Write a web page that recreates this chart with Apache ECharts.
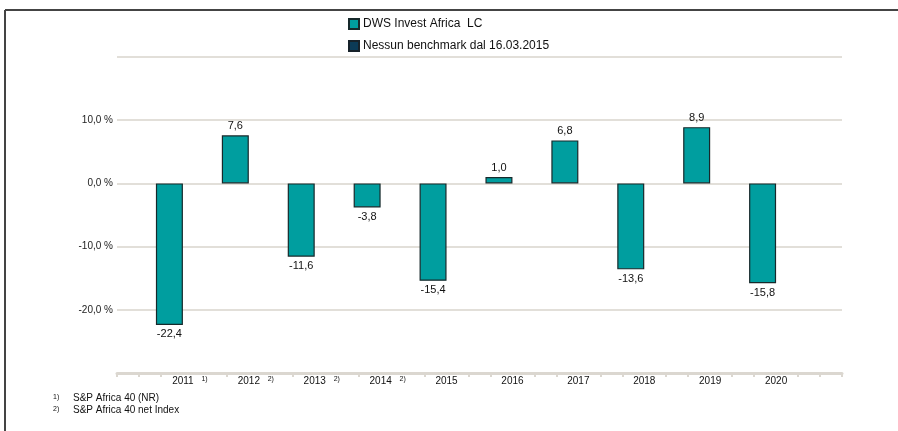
<!DOCTYPE html>
<html>
<head>
<meta charset="utf-8">
<script src="https://cdn.jsdelivr.net/npm/echarts@6/dist/echarts.min.js"></script>
<style>
html,body{margin:0;padding:0;background:#fff;}
#chart{width:898px;height:431px;}
</style>
</head>
<body>
<div id="chart"></div>
<script>
// ---- data ----
const years = ['2011','2012','2013','2014','2015','2016','2017','2018','2019','2020'];
const footMarks = ['1)','2)','2)','2)','','','','','',''];
const dwsValues = [-22.4, 7.6, -11.6, -3.8, -15.4, 1.0, 6.8, -13.6, 8.9, -15.8];
const benchmarkValues = [null, null, null, null, null, null, null, null, null, null];
const seriesNames = ['DWS Invest Africa  LC', 'Nessun benchmark dal 16.03.2015'];
const yTicks = [-20, -10, 0, 10];
const footnotes = [['1)', 'S&P Africa 40 (NR)'], ['2)', 'S&P Africa 40 net Index']];

// padded category axis (an empty slot at each end)
const cats = [''].concat(years, ['']);
const pad = arr => [null].concat(arr, [null]);
const subTicks = Array.from({length: (cats.length - 1) * 3 + 1}, () => '');

const fmt = v => v.toFixed(1).replace('.', ',');
const FONT = '"Liberation Sans", Arial, sans-serif';

const chart = echarts.init(document.getElementById('chart'));
chart.setOption({
  animation: false,
  textStyle: {fontFamily: FONT},
  legend: {
    orient: 'vertical',
    left: 343, top: 13,
    itemWidth: 10, itemHeight: 10, itemGap: 10,
    icon: 'rect',
    textStyle: {fontSize: 12, color: '#111', fontFamily: FONT, padding: [0, 0, 0, -1]},
    data: seriesNames
  },
  grid: {left: 117, right: 56, top: 57, bottom: 58},
  xAxis: [{
    type: 'category',
    data: cats,
    boundaryGap: false,
    axisLine: {show: false},
    axisTick: {show: false},
    splitLine: {show: false},
    axisLabel: {
      interval: 0,
      margin: 3,
      color: '#111',
      fontSize: 10,
      fontFamily: FONT,
      formatter: function (v) {
        const i = years.indexOf(v);
        if (i < 0) return '';
        const m = footMarks[i];
        return m ? '{p|}{y|' + v + '}{s|' + m + '}' : '{y|' + v + '}';
      },
      rich: {
        y: {fontSize: 10, color: '#111', fontFamily: FONT},
        p: {width: 14},
        s: {fontSize: 7, color: '#111', fontFamily: FONT, width: 14, align: 'right', verticalAlign: 'top', padding: [0, 0, 3, 0]}
      }
    }
  }, {
    type: 'category',
    data: subTicks,
    boundaryGap: false,
    position: 'bottom',
    axisLine: {show: true, lineStyle: {color: '#dbd7d0', width: 3}},
    axisTick: {
      show: true, length: 4,
      lineStyle: {color: '#dbd7d0', width: 2},
      interval: function (i) {
        if (i === 0 || i === subTicks.length - 1) return true;
        if (i % 3 === 0) return false;
        if (i % 3 === 1) {
          const c = (i - 1) / 3 - 1;
          if (c >= 0 && c < footMarks.length && footMarks[c]) return false;
        }
        return true;
      }
    },
    axisLabel: {show: false},
    splitLine: {show: false}
  }],
  yAxis: {
    type: 'value',
    min: -30, max: 20, interval: 10,
    axisLine: {show: false},
    axisTick: {show: false},
    splitLine: {lineStyle: {color: '#e2dfd9', width: 2}},
    axisLabel: {
      margin: 4,
      color: '#222',
      fontSize: 10,
      fontFamily: FONT,
      formatter: v => yTicks.indexOf(v) >= 0 ? fmt(v) + ' %' : ''
    }
  },
  series: [{
    name: seriesNames[0],
    type: 'bar',
    data: pad(dwsValues),
    barWidth: 27,
    barGap: '0%',
    itemStyle: {color: '#009e9f', borderColor: '#17292b', borderWidth: 1.2},
    label: {
      show: true,
      position: 'outside',
      distance: 4,
      fontSize: 11,
      color: '#111',
      fontFamily: FONT,
      formatter: p => p.value == null ? '' : fmt(p.value)
    }
  }, {
    name: seriesNames[1],
    type: 'bar',
    data: pad(benchmarkValues),
    barWidth: 27,
    itemStyle: {color: '#0c3b57', borderColor: '#17222a', borderWidth: 1.2}
  }],
  graphic: [
    {type: 'line', shape: {x1: 5, y1: 10, x2: 898, y2: 10}, style: {stroke: '#444', lineWidth: 2}},
    {type: 'line', shape: {x1: 5, y1: 10, x2: 5, y2: 431}, style: {stroke: '#444', lineWidth: 2}}
  ].concat(footnotes.flatMap((f, k) => [
    {type: 'text', left: 53, top: 394 + k * 12, style: {text: f[0], fontSize: 7, fill: '#111', fontFamily: FONT}},
    {type: 'text', left: 73, top: 393 + k * 12, style: {text: f[1], fontSize: 10, fill: '#111', fontFamily: FONT}}
  ]))
});
</script>
</body>
</html>
